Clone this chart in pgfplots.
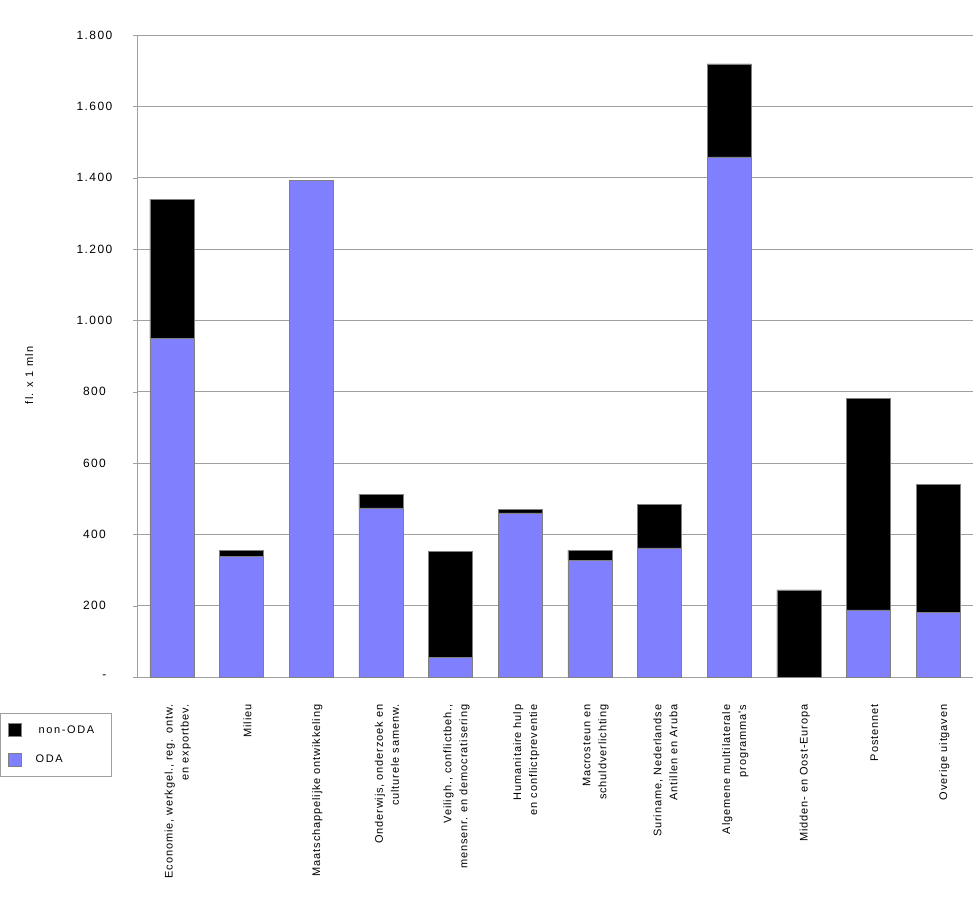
\documentclass[border=0pt]{standalone}
\usepackage{pgfplots}
\pgfplotsset{compat=1.18}
\usepackage{fontspec}
\setmainfont{Liberation Sans}
\newfontfamily\lblfont[LetterSpace=8]{Liberation Sans}
\newfontfamily\tickfont[LetterSpace=12]{Liberation Sans}
\newfontfamily\legfont[LetterSpace=15]{Liberation Sans}
\newfontfamily\ylabfont[LetterSpace=12]{Liberation Sans}
\definecolor{oda}{HTML}{8080FF}
\definecolor{gridc}{HTML}{A0A0A0}
\begin{document}
\begin{tikzpicture}[x=1pt,y=1pt]
\useasboundingbox (0,0) rectangle (973,898);
\begin{axis}[
  at={(137pt,221pt)}, anchor=south west,
  scale only axis, width=836pt, height=642pt,
  ybar stacked, bar width=44pt,
  xmin=-0.5, xmax=11.5, ymin=0, ymax=1800,
  axis x line=bottom, axis y line=left,
  axis line style={-, gridc, line width=0.6pt},
  xtick={0,...,11},
  major x tick style={draw=none},
  xticklabels={
    {Economie, werkgel., reg. ontw.\\en exportbev.},
    {Milieu},
    {Maatschappelijke ontwikkeling},
    {Onderwijs, onderzoek en\\culturele samenw.},
    {Veiligh., conflictbeh.,\\mensenr. en democratisering},
    {Humanitaire hulp\\en conflictpreventie},
    {Macrosteun en\\schuldverlichting},
    {Suriname, Nederlandse\\Antillen en Aruba},
    {Algemene multilaterale\\programma's},
    {Midden- en Oost-Europa},
    {Postennet},
    {Overige uitgaven}},
  xticklabel style={xshift=6pt, yshift=-20pt, rotate=90, anchor=east, align=right,
    font={\lblfont\fontsize{11}{16}\selectfont}},
  extra x ticks={0.5,1.5,...,10.5},
  extra x tick labels={},
  extra x tick style={major tick length=5pt, tick align=inside, major tick style={draw=gridc}, grid=none},
  ytick={0,200,...,1800},
  yticklabels={\hspace{20pt}-,200,400,600,800,{1.000},{1.200},{1.400},{1.600},{1.800}},
  yticklabel style={font={\tickfont\fontsize{12}{14}\selectfont}, anchor=east,
    text width=40pt, align=center, xshift=-15pt},
  /pgf/number format/assume math mode=true,
  tick align=outside, major tick length=4pt,
  major y tick style={gridc},
  ymajorgrids, major grid style={gridc, line width=0.6pt},
  ylabel={fl. x 1 mln},
  ylabel style={at={(axis description cs:-0.129,0.470)}, anchor=center, rotate=0,
    font={\ylabfont\fontsize{11}{13}\selectfont}},
  reverse legend,
  legend style={at={(axis description cs:-0.1639,-0.0561)}, anchor=north west,
    draw=gridc, font={\legfont\fontsize{11}{13}\selectfont},
    row sep=16pt, inner xsep=8pt, inner ysep=10pt, text width=78pt},
  legend image code/.code={\fill[#1] (0pt,-6.5pt) rectangle (13pt,6.5pt);},
]
\addplot+[fill=oda, draw=gray, line width=0.4pt] coordinates {
(0,950) (1,339) (2,1393) (3,474) (4,56) (5,460) (6,328) (7,362) (8,1458) (9,0) (10,188) (11,182)};
\addlegendentry{\hspace{12pt}ODA}
\addplot+[fill=black, draw=gray, line width=0.4pt] coordinates {
(0,390) (1,17) (2,0) (3,39) (4,297) (5,11) (6,28) (7,123) (8,261) (9,244) (10,594) (11,359)};
\addlegendentry{\hspace{15pt}non-ODA}
\end{axis}
\end{tikzpicture}
\end{document}
